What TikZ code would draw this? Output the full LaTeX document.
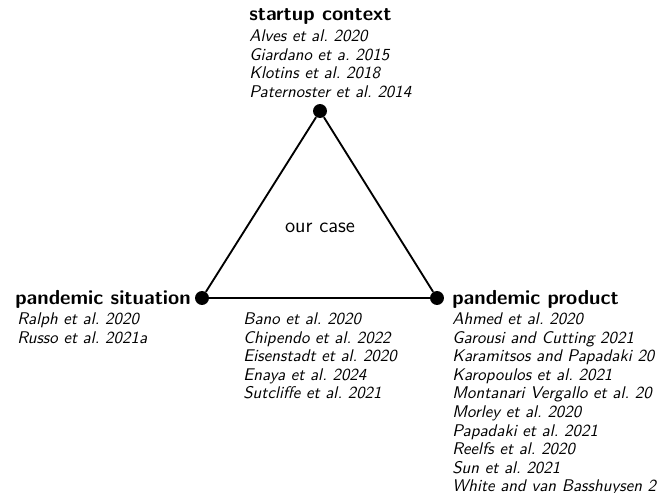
\documentclass[tikz,border=0pt]{standalone}
\usepackage{fontspec}
\frenchspacing
\newcommand{\reflist}[1]{\begin{tabular}[t]{@{}l@{}}#1\end{tabular}}
\begin{document}
\begin{tikzpicture}[x=0.645pt,y=-0.645pt,
  dot/.style={circle,fill=black,inner sep=0pt,minimum size=9pt},
  edge/.style={line width=1.2pt},
  ttl/.style={font=\sffamily\bfseries\fontsize{13.1}{15}\selectfont,inner sep=0pt,anchor=base west},
  refs/.style={font=\sffamily\itshape\fontsize{10.9}{12}\selectfont,inner sep=0pt,anchor=base west},
  mid/.style={font=\sffamily\fontsize{13.4}{15}\selectfont,inner sep=0pt}]
\useasboundingbox (0,0) rectangle (671,492);
\node[dot] (top) at (320,111) {};
\node[dot] (left) at (202,298) {};
\node[dot] (right) at (437,298) {};
\draw[edge] (top) -- (left);
\draw[edge] (left) -- (right);
\draw[edge] (right) -- (top);
\node[mid] (case) at (320,228) {our case};
\node[ttl] (sct) at (249,20.7) {startup context};
\node[refs] (scr) at (249,41.5) {\reflist{Alves et al. 2020\\Giardano et a. 2015\\Klotins et al. 2018\\Paternoster et al. 2014}};
\node[ttl] (pst) at (15,304) {pandemic situation};
\node[refs] (psr) at (17,324.5) {\reflist{Ralph et al. 2020\\Russo et al. 2021a}};
\node[refs] (edr) at (243,324.5) {\reflist{Bano et al. 2020\\Chipendo et al. 2022\\Eisenstadt et al. 2020\\Enaya et al. 2024\\Sutcliffe et al. 2021}};
\node[ttl] (ppt) at (452,304) {pandemic product};
\node[refs] (ppr) at (452,324.5) {\reflist{Ahmed et al. 2020\\Garousi and Cutting 2021\\Karamitsos and Papadaki 20\\Karopoulos et al. 2021\\Montanari Vergallo et al. 20\\Morley et al. 2020\\Papadaki et al. 2021\\Reelfs et al. 2020\\Sun et al. 2021\\White and van Basshuysen 2}};
\end{tikzpicture}
\end{document}
